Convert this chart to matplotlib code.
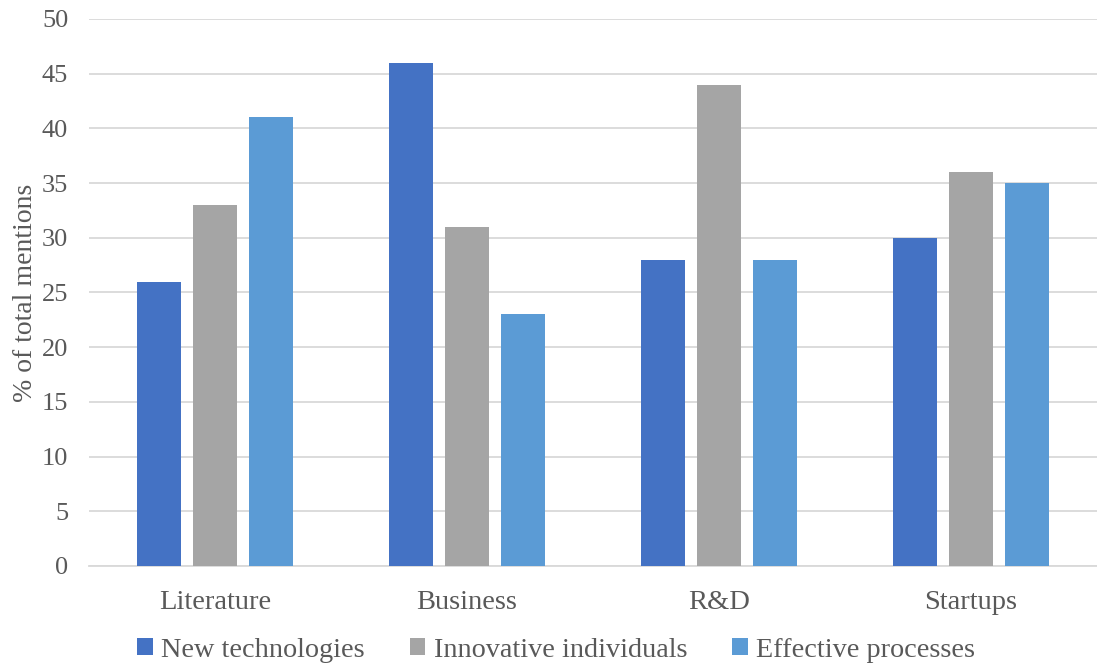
import numpy as np
import matplotlib
matplotlib.use("Agg")
import matplotlib.pyplot as plt

categories = ["Literature", "Business", "R&D", "Startups"]
series_names = ["New technologies", "Innovative individuals", "Effective processes"]
new_tech = [26, 46, 28, 30]
innovative = [33, 31, 44, 36]
effective = [41, 23, 28, 35]
colors = ["#4472C4", "#A5A5A5", "#5B9BD5"]

plt.rcParams['font.family'] = ['Liberation Serif', 'DejaVu Serif']
text_col = "#595959"

fig = plt.figure(figsize=(10.97, 6.64), dpi=100)
ax = fig.add_axes([0.0811, 0.1476, 0.9189, 0.8238])

x = np.arange(len(categories))
width = 0.175
step = 0.222
for i, (vals, name) in enumerate(zip([new_tech, innovative, effective], series_names)):
    ax.bar(x + (i - 1) * step, vals, width, color=colors[i], label=name, zorder=3)

ax.set_xlim(-0.5, 3.5)
ax.set_ylim(0, 50)
ax.set_yticks(range(0, 51, 5))
ax.set_xticks(x)
ax.set_xticklabels(categories)
ax.grid(axis='y', color='#D9D9D9', linewidth=1.3, zorder=0)
for s in ['top', 'right', 'left']:
    ax.spines[s].set_visible(False)
ax.spines['bottom'].set_color('#D9D9D9')
ax.spines['bottom'].set_linewidth(1.3)
ax.tick_params(axis='both', length=0, colors=text_col)
ax.tick_params(axis='y', pad=15, labelsize=19)
ax.tick_params(axis='x', pad=17, labelsize=20.5)
ax.set_ylabel("% of total mentions", fontsize=20, color=text_col, labelpad=3)

fig.legend(loc='center', bbox_to_anchor=(0.507, 0.021), ncol=3, frameon=False,
           fontsize=20.3, handlelength=0.55, handleheight=0.55, handletextpad=0.3,
           columnspacing=1.6, labelcolor=text_col)

fig.savefig("out.png", dpi=100)
